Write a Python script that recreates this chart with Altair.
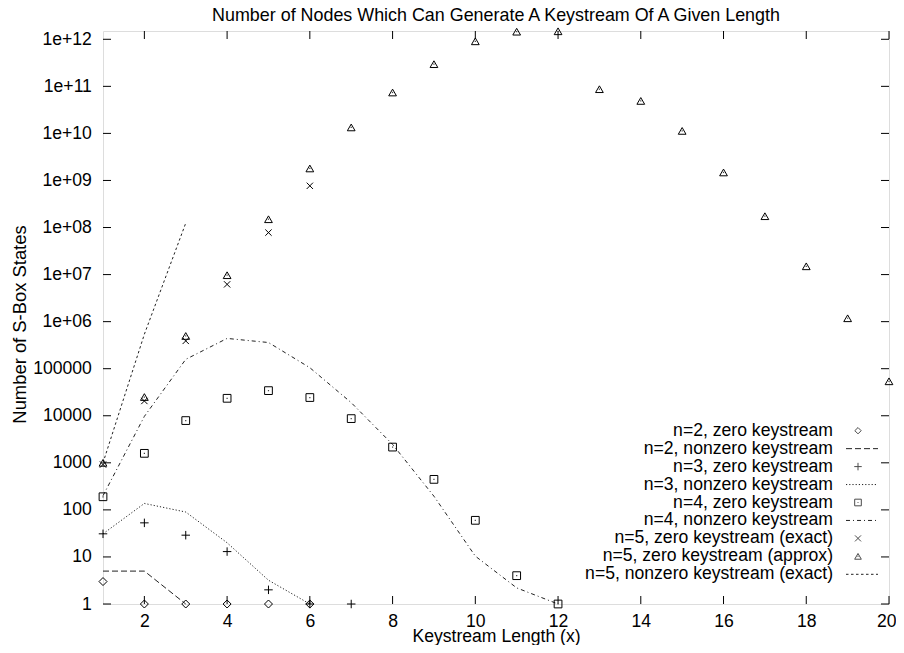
import altair as alt
import pandas as pd

FONT = "Liberation Sans"
FS = 17.6

X_TICKS = [2, 4, 6, 8, 10, 12, 14, 16, 18, 20]
Y_TICKS = [1, 10, 100, 1000, 1e4, 1e5, 1e6, 1e7, 1e8, 1e9, 1e10, 1e11, 1e12]
Y_TICK_LABELS = ["1", "10", "100", "1000", "10000", "100000", "1e+06", "1e+07",
                 "1e+08", "1e+09", "1e+10", "1e+11", "1e+12"]

# series
n2_zero_x = [1, 2, 3, 4, 5, 6]
n2_zero_y = [3, 1, 1, 1, 1, 1]
n2_nonzero_x = [1, 2, 3]
n2_nonzero_y = [5, 5, 1]
n3_zero_x = [1, 2, 3, 4, 5, 6, 7]
n3_zero_y = [31, 53, 29, 13, 2, 1, 1]
n3_nonzero_x = [1, 2, 3, 4, 5, 6]
n3_nonzero_y = [31, 137, 90, 20, 3.2, 1]
n4_zero_x = [1, 2, 3, 4, 5, 6, 7, 8, 9, 10, 11, 12]
n4_zero_y = [190, 1590, 7900, 23500, 34200, 24400, 8700, 2160, 445, 60, 4, 1]
n4_nonzero_x = [1, 2, 3, 4, 5, 6, 7, 8, 9, 10, 11, 12]
n4_nonzero_y = [200, 9700, 158000, 440000, 360000, 105000, 19000, 2460, 195, 10.4, 2.2, 1]
n5_zero_exact_x = [1, 2, 3, 4, 5, 6]
n5_zero_exact_y = [920, 20600, 390000, 6.2e6, 7.8e7, 7.7e8]
n5_zero_approx_x = list(range(1, 21))
n5_zero_approx_y = [1000, 25000, 4.96e5, 9.7e6, 1.5e8, 1.8e9, 1.34e10, 7.4e10, 2.96e11,
                    9.06e11, 1.45e12, 1.48e12, 8.7e10, 4.9e10, 1.13e10, 1.48e9, 1.74e8,
                    1.5e7, 1.18e6, 5.4e4]
n5_nonzero_x = [1, 2, 3]
n5_nonzero_y = [1000, 5.4e5, 1.24e8]

LEGEND_LABELS = [
    "n=2, zero keystream",
    "n=2, nonzero keystream",
    "n=3, zero keystream",
    "n=3, nonzero keystream",
    "n=4, zero keystream",
    "n=4, nonzero keystream",
    "n=5, zero keystream (exact)",
    "n=5, zero keystream (approx)",
    "n=5, nonzero keystream (exact)",
]

TITLE = "Number of Nodes Which Can Generate A Keystream Of A Given Length"

PLUS = "M-1,0L1,0M0,-1L0,1"
CROSS = "M-1,-1L1,1M-1,1L1,-1"

W, H = 786, 573

xscale = alt.Scale(domain=[1, 20], nice=False, zero=False)
yscale = alt.Scale(type="log", domain=[1, 1.5e12], nice=False)

label_expr = "[" + ",".join("'%s'" % s for s in Y_TICK_LABELS) + "][round(log(datum.value)/LN10)]"

xaxis = alt.Axis(values=X_TICKS, title="Keystream Length (x)", grid=False, domain=False,
                 ticks=False, tickSize=0, labelPadding=17.5, labelBaseline="middle",
                 labelFont=FONT, labelFontSize=FS, titleFont=FONT, titleFontSize=FS,
                 titleFontWeight="normal", labelColor="black", titleColor="black",
                 labelFlush=True, labelFlushOffset=7, labelOverlap=False,
                 titleX=W / 2, titleY=32, titleBaseline="middle")
yaxis = alt.Axis(values=Y_TICKS, labelExpr=label_expr, title="Number of S-Box States",
                 grid=False, domain=False, ticks=False, tickSize=0, labelPadding=11.6,
                 labelBaseline="middle", labelFont=FONT, labelFontSize=FS, titleFont=FONT,
                 titleFontSize=FS + 0.8, titleFontWeight="normal", labelColor="black",
                 titleColor="black", labelFlush=False, labelOverlap=False,
                 titleX=-84, titleY=293, titleAlign="center", titleBaseline="middle",
                 titleAngle=270)


def X():
    return alt.X("x:Q", scale=xscale, axis=xaxis)


def Y():
    return alt.Y("y:Q", scale=yscale, axis=yaxis)


def df(xs, ys):
    return pd.DataFrame({"x": xs, "y": ys})


layers = []

# inward tick marks (gnuplot style, mirrored)
xt = pd.DataFrame({"x": X_TICKS})
yt = pd.DataFrame({"y": Y_TICKS})
layers.append(alt.Chart(xt).mark_rule(color="black", strokeWidth=1).encode(
    x=X(), y=alt.value(H), y2=alt.value(H - 8)))
layers.append(alt.Chart(xt).mark_rule(color="black", strokeWidth=1).encode(
    x=X(), y=alt.value(0), y2=alt.value(8)))
layers.append(alt.Chart(yt).mark_rule(color="black", strokeWidth=1).encode(
    y=Y(), x=alt.value(0), x2=alt.value(8)))
layers.append(alt.Chart(yt).mark_rule(color="black", strokeWidth=1).encode(
    y=Y(), x=alt.value(W), x2=alt.value(W - 8)))

LINE_COLOR = "#222222"
DASHES = {
    "n2": [6, 3],
    "n3": [1.2, 2],
    "n4": [4, 3, 1, 3],
    "n5": [2.5, 2.5],
}

# lines
for xs, ys, dash in [
    (n2_nonzero_x, n2_nonzero_y, DASHES["n2"]),
    (n3_nonzero_x, n3_nonzero_y, DASHES["n3"]),
    (n4_nonzero_x, n4_nonzero_y, DASHES["n4"]),
    (n5_nonzero_x, n5_nonzero_y, DASHES["n5"]),
]:
    layers.append(alt.Chart(df(xs, ys)).mark_line(
        stroke=LINE_COLOR, strokeWidth=1, strokeDash=dash).encode(x=X(), y=Y()))

# points
POINT_SPECS = [
    (n2_zero_x, n2_zero_y, "diamond", 64, False),
    (n3_zero_x, n3_zero_y, PLUS, 72, False),
    (n4_zero_x, n4_zero_y, "square", 60, True),
    (n5_zero_exact_x, n5_zero_exact_y, CROSS, 40, False),
    (n5_zero_approx_x, n5_zero_approx_y, "triangle-up", 60, True),
]
for xs, ys, shape, size, dot in POINT_SPECS:
    layers.append(alt.Chart(df(xs, ys)).mark_point(
        shape=shape, size=size, filled=False, stroke="black", strokeWidth=1,
        opacity=1, clip=False).encode(x=X(), y=Y()))
    if dot:
        layers.append(alt.Chart(df(xs, ys)).mark_square(
            size=1.5, color="#444444", opacity=1, clip=False).encode(x=X(), y=Y()))

# title as a text mark placed above the plot frame
layers.append(alt.Chart(pd.DataFrame({"t": [TITLE]})).mark_text(
    align="center", baseline="middle", font=FONT, fontSize=17.9, color="black").encode(
    text="t:N", x=alt.value(W / 2), y=alt.value(-15.5)))

# legend (gnuplot style: right-aligned text, sample to the right)
LEG_TEXT_X = 730
LEG_SYM_X = 755
LEG_LINE_X1, LEG_LINE_X2 = 743, 775
LEG_Y0, LEG_DY = 399.7, 17.95
legend_samples = [
    ("point", "diamond", 40),
    ("line", DASHES["n2"], None),
    ("point", PLUS, 56),
    ("line", DASHES["n3"], None),
    ("point", "square", 44),
    ("line", DASHES["n4"], None),
    ("point", CROSS, 36),
    ("point", "triangle-up", 44),
    ("line", DASHES["n5"], None),
]
for i, (label, sample) in enumerate(zip(LEGEND_LABELS, legend_samples)):
    yv = LEG_Y0 + LEG_DY * i
    ld = pd.DataFrame({"label": [label]})
    layers.append(alt.Chart(ld).mark_text(
        align="right", baseline="middle", font=FONT, fontSize=FS, color="black").encode(
        text="label:N", x=alt.value(LEG_TEXT_X), y=alt.value(yv)))
    kind, style, size = sample
    if kind == "point":
        layers.append(alt.Chart(ld).mark_point(
            shape=style, size=size, filled=False, stroke="black", strokeWidth=1).encode(
            x=alt.value(LEG_SYM_X), y=alt.value(yv)))
        if style in ("square", "triangle-up"):
            layers.append(alt.Chart(ld).mark_square(size=1.5, color="#444444").encode(
                x=alt.value(LEG_SYM_X), y=alt.value(yv)))
    else:
        layers.append(alt.Chart(ld).mark_rule(
            stroke=LINE_COLOR, strokeWidth=1, strokeDash=style).encode(
            x=alt.value(LEG_LINE_X1), x2=alt.value(LEG_LINE_X2), y=alt.value(yv)))

chart = alt.layer(*layers).properties(
    width=W, height=H,
    autosize=alt.AutoSizeParams(type="none"),
    padding={"left": 95, "top": 23, "right": 7, "bottom": 41},
).configure_view(stroke="black", strokeWidth=1.2).configure(background="white")

chart.save("out.html", embed_options={"renderer": "svg", "actions": False})
